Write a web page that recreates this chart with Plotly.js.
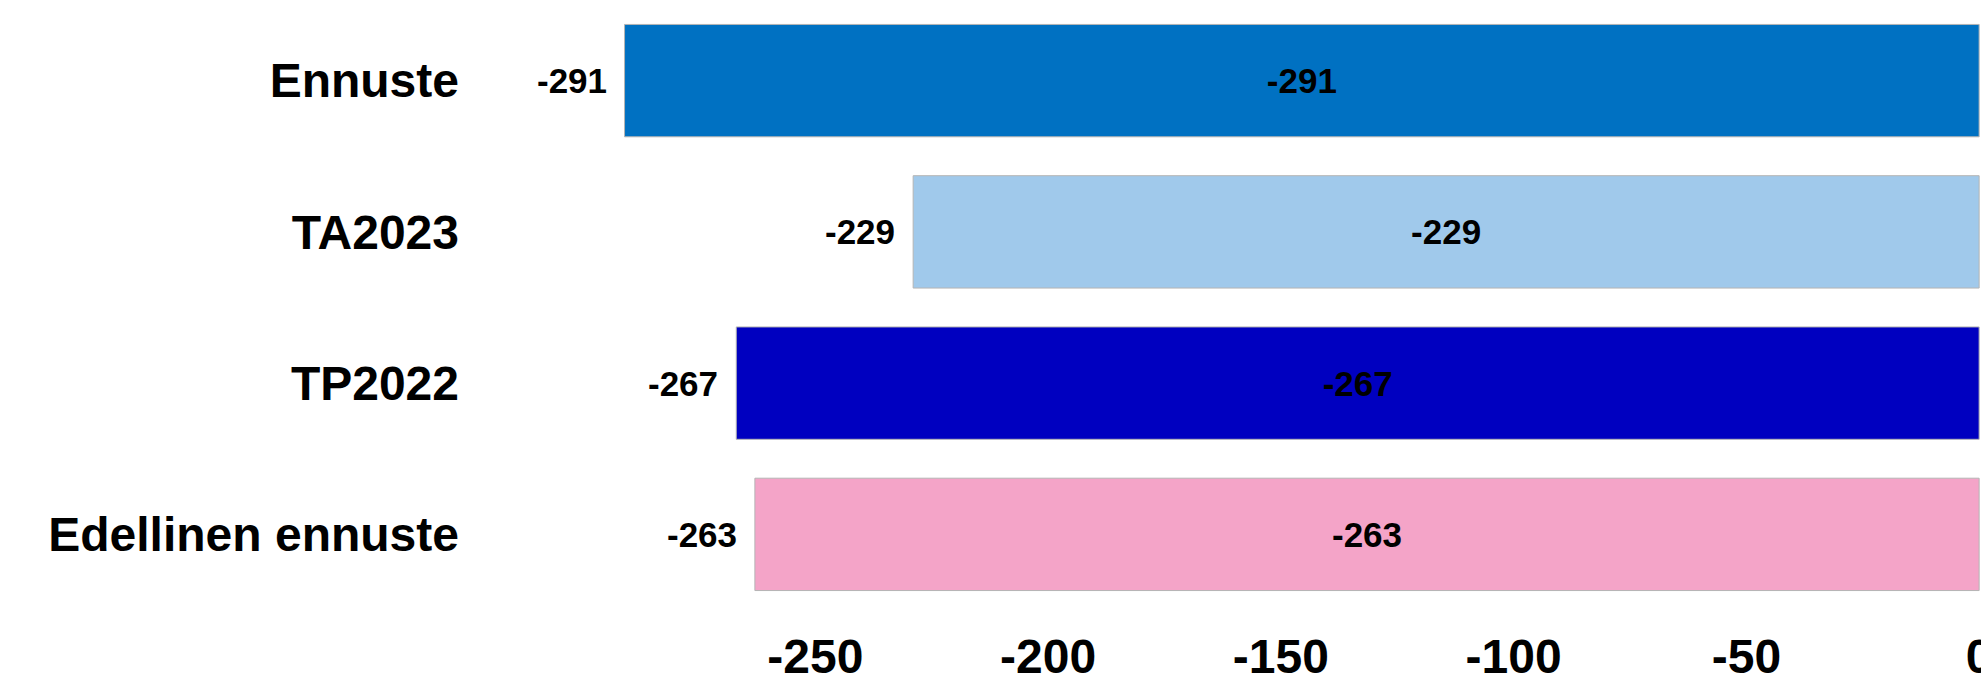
<!DOCTYPE html>
<html>
<head>
<meta charset="utf-8">
<script src="https://cdn.plot.ly/plotly-3.0.1.min.js"></script>
<style>
html, body { margin: 0; padding: 0; background: #ffffff; overflow: hidden; }
#chart { width: 1981px; height: 687px; }
</style>
</head>
<body>
<div id="chart"></div>
<script>
// Data
const categories = ["Ennuste", "TA2023", "TP2022", "Edellinen ennuste"];
const values = [-291, -229, -267, -263];
const barColors = ["#0071C2", "#A0C9EB", "#0000C0", "#F4A4C8"];
const tickValues = [-250, -200, -150, -100, -50, 0];
const tickLabels = ["-250", "-200", "-150", "-100", "-50", "0"];

const FONT = "Arial, 'Liberation Sans', sans-serif";

const barTrace = {
  type: "bar",
  orientation: "h",
  x: values,
  y: categories,
  marker: { color: barColors, line: { color: "#b4b4b4", width: 1 } },
  text: values.map(v => String(v)),
  textposition: "inside",
  insidetextanchor: "middle",
  constraintext: "none",
  textangle: 0,
  textfont: { family: FONT, size: 35, color: "#000000", weight: "bold" },
  hoverinfo: "none",
  showlegend: false
};

const annotations = values.map((v, i) => ({
  x: v,
  y: categories[i],
  xref: "x",
  yref: "y",
  text: String(v),
  showarrow: false,
  xanchor: "right",
  yanchor: "middle",
  xshift: -16,
  font: { family: FONT, size: 35, color: "#000000", weight: "bold" }
}));

const layout = {
  width: 1981,
  height: 687,
  margin: { l: 470, r: 0, t: 5, b: 77 },
  paper_bgcolor: "#ffffff",
  plot_bgcolor: "#ffffff",
  bargap: 0.257,
  showlegend: false,
  xaxis: {
    range: [-324.2, 0.4],
    tickvals: tickValues,
    ticktext: tickLabels,
    showgrid: false,
    zeroline: false,
    showline: false,
    ticks: "",
    ticklabelstandoff: 14,
    ticklabeloverflow: "allow",
    tickfont: { family: FONT, size: 48, color: "#000000", weight: "bold" },
    fixedrange: true
  },
  yaxis: {
    type: "category",
    autorange: "reversed",
    showgrid: false,
    zeroline: false,
    showline: false,
    ticks: "",
    ticklabelstandoff: 10,
    tickfont: { family: FONT, size: 48, color: "#000000", weight: "bold" },
    fixedrange: true
  },
  annotations: annotations,
  font: { family: FONT, color: "#000000" }
};

Plotly.newPlot("chart", [barTrace], layout, { displayModeBar: false, staticPlot: true });
</script>
</body>
</html>
